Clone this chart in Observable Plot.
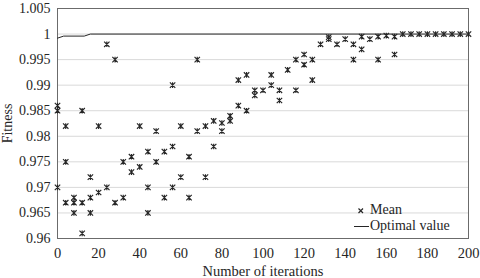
<!DOCTYPE html>
<html><head><meta charset="utf-8">
<script src="https://cdn.jsdelivr.net/npm/d3@7"></script>
<script src="https://cdn.jsdelivr.net/npm/@observablehq/plot@0.6"></script>
<style>
html,body{margin:0;padding:0;background:#fff;}
#chart{position:relative;width:480px;height:278px;font-family:"Liberation Serif","Times New Roman",serif;color:#262626;}
#chart svg{display:block;}
.lg{position:absolute;font-size:14px;line-height:14px;white-space:nowrap;}
</style></head><body><div id="chart"></div>
<script>
const iterations = [0,4,8,12,16,20,24,28,32,36,40,44,48,52,56,60,64,68,72,76,80,84,88,92,96,100,104,108,112,116,120,124,128,132,136,140,144,148,152,156,160,164,168,172,176,180,184,188,192,196,200];
const meanA = [0.986,0.982,0.968,0.985,0.972,0.982,0.998,0.995,0.975,0.976,0.982,0.977,0.981,0.977,0.990,0.982,0.976,0.995,0.982,0.983,0.9826,0.984,0.991,0.992,0.989,0.989,0.992,0.989,0.993,0.995,0.996,0.995,0.998,0.9994,0.998,0.999,0.998,0.9995,0.999,0.9995,0.9997,0.9995,1,1,1,1,1,1,1,1,1];
const meanB = [0.985,0.975,0.967,0.967,0.968,0.969,0.970,0.967,0.968,0.973,0.974,0.970,0.975,0.968,0.978,0.972,0.968,0.981,0.972,0.978,0.981,0.983,0.986,0.985,0.988,null,0.990,0.987,null,0.989,0.994,0.991,null,0.999,null,null,0.995,0.997,null,0.995,null,0.996,null,null,null,null,null,null,null,null,null];
const meanC = [0.970,0.967,0.965,0.961,0.965,null,null,null,null,null,null,0.965,null,null,0.970,null,null,null,null,null,null,null,null,null,null,null,null,null,null,null,null,null,null,null,null,null,null,null,null,null,null,null,null,null,null,null,null,null,null,null,null];
const optimalIter = [0,3,13,16,200];
const optimalValue = [0.9992,0.9996,0.9996,1,1];
const xTicks = [0,20,40,60,80,100,120,140,160,180,200];
const yTicks = [0.96,0.965,0.97,0.975,0.98,0.985,0.99,0.995,1,1.005];

const points = [meanA, meanB, meanC].flatMap(s =>
  iterations.map((x, i) => ({x, y: s[i]})).filter(d => d.y != null));
const optimal = optimalIter.map((x, i) => ({x, y: optimalValue[i]}));

const star = {
  draw(ctx, size) {
    const r = Math.sqrt(size / Math.PI);
    ctx.moveTo(-r, -r); ctx.lineTo(r, r);
    ctx.moveTo(r, -r); ctx.lineTo(-r, r);
    ctx.moveTo(0, -r * 1.05); ctx.lineTo(0, r * 1.05);
  }
};

const plot = Plot.plot({
  width: 480, height: 278,
  marginLeft: 57, marginRight: 12, marginTop: 8, marginBottom: 40,
  style: {fontFamily: '"Liberation Serif","Times New Roman",serif', fontSize: "14px", color: "#262626", background: "#fff"},
  x: {domain: [0, 200]},
  y: {domain: [0.96, 1.005]},
  marks: [
    Plot.gridY(yTicks, {stroke: "#d9d9d9", strokeOpacity: 1}),
    Plot.frame({stroke: "#6b6b6b"}),
    Plot.axisY(yTicks, {tickSize: 0, tickPadding: 7, tickFormat: d3.format("~g"),
      label: "Fitness", labelAnchor: "center", labelOffset: 55, labelArrow: "none", fontSize: 14}),
    Plot.axisX(xTicks, {tickSize: 0, tickPadding: 9,
      label: "Number of iterations", labelAnchor: "center", labelOffset: 37, labelArrow: "none", fontSize: 14.5}),
    Plot.line(optimal, {x: "x", y: "y", stroke: "#262626", strokeWidth: 1}),
    Plot.dot(points, {x: "x", y: "y", symbol: star, r: 2.7, fill: "none", stroke: "#262626", strokeWidth: 1.15})
  ]
});
const chart = document.getElementById("chart");
chart.append(plot);

const legend = document.createElement("div");
legend.innerHTML = `
<svg class="lg" style="left:357px;top:207px" width="8" height="8"><path d="M1.5,1.5L6,6M6,1.5L1.5,6" stroke="#262626" stroke-width="1.2"/></svg>
<span class="lg" style="left:370px;top:203px">Mean</span>
<div class="lg" style="left:354px;top:226px;width:15px;height:1px;background:#262626"></div>
<span class="lg" style="left:370px;top:219px">Optimal value</span>`;
while (legend.firstElementChild) chart.append(legend.firstElementChild);
</script></body></html>
